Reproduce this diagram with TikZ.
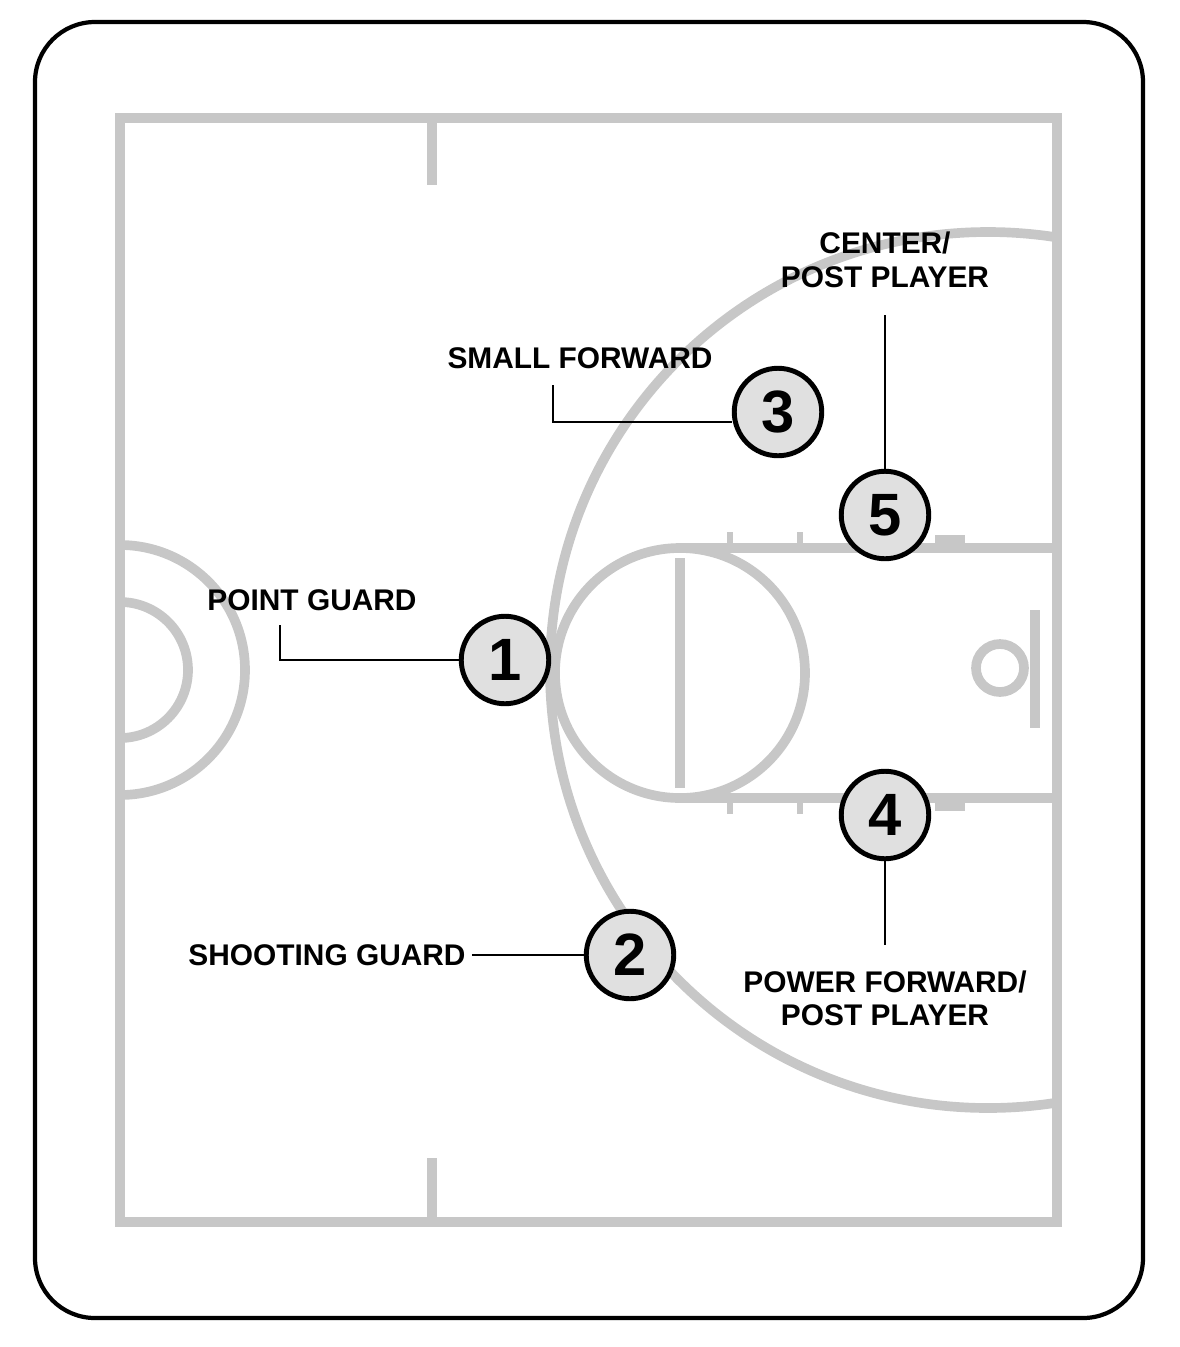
\documentclass[tikz,border=0pt]{standalone}
\usepackage{fontspec}
\setmainfont{Liberation Sans}
\usetikzlibrary{calc}

\begin{document}
\begin{tikzpicture}[x=0.02cm, y=-0.02cm,
  court/.style = {draw=black!22, line width=5.5pt},
  player/.style = {shape=circle, draw=black, line width=2.8pt,
    fill=black!12, minimum size=1.75cm, inner sep=0pt,
    font=\fontsize{34}{34}\selectfont\bfseries},
  role/.style = {align=center, font=\fontsize{17}{19}\selectfont\bfseries},
  leader/.style = {draw=black, line width=1.6pt}]
  \useasboundingbox (0,0) rectangle (1180,1347);
  \draw[line width=2.4pt, rounded corners=1.2cm] (35,22) rectangle (1143,1318);

  % court
  \draw[court] (120,118) rectangle (1057,1222);
  \draw[court] (432,118) -- (432,185);
  \draw[court] (432,1222) -- (432,1158);
  \begin{scope}
    \clip (120,118) rectangle (1057,1222);
    \draw[court] (120,670) circle[radius=68];
    \draw[court] (120,670) circle[radius=125];
    \draw[court] (988,670) circle[radius=438];
  \end{scope}
  \draw[court] (680,548) -- (1057,548);
  \draw[court] (680,798) -- (1057,798);
  \draw[court] (680,558) -- (680,788);
  \draw[court] (680,673) circle[radius=125];
  \draw[court] (1000,668) circle[radius=24];
  \draw[court] (1035,610) -- (1035,728);
  \foreach \x in {730,800,855} {
    \draw[court, line width=3pt] (\x,548) -- (\x,532);
    \draw[court, line width=3pt] (\x,798) -- (\x,814);
  }
  \draw[court] (935,540) -- (965,540);
  \draw[court] (935,806) -- (965,806);

  % players
  \node[player] (p1) at (505,660) {1};
  \node[player] (p2) at (630,955) {2};
  \node[player] (p3) at (778,412) {3};
  \node[player] (p4) at (885,815) {4};
  \node[player] (p5) at (885,515) {5};

  % labels
  \node[role] (pg) at (312,600) {POINT GUARD};
  \node[role] (sg) at (327,955) {SHOOTING GUARD};
  \node[role] (sf) at (580,358) {SMALL FORWARD};
  \node[role] (ce) at (885,260) {CENTER/\\POST PLAYER};
  \node[role] (pf) at (885,998) {POWER FORWARD/\\POST PLAYER};

  \draw[leader] (280,625) |- (p1.west);
  \draw[leader] (sg.east) -- (p2.west);
  \draw[leader] (553,385) |- ($(p3.west)+(0,10)$);
  \draw[leader] (885,315) -- (p5.north);
  \draw[leader] (p4.south) -- (885,945);
\end{tikzpicture}
\end{document}
